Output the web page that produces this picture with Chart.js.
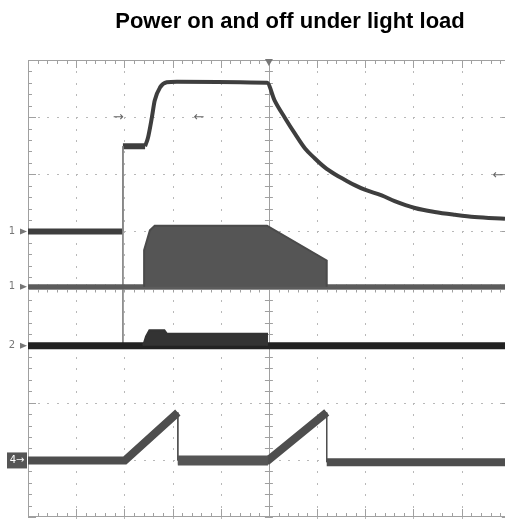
<!DOCTYPE html>
<html>
<head>
<meta charset="utf-8">
<title>Power on and off under light load</title>
<script src="https://cdn.jsdelivr.net/npm/chart.js@4.4.1/dist/chart.umd.min.js"></script>
<style>
  html, body { margin: 0; padding: 0; background: #fff; }
  canvas { display: block; }
</style>
</head>
<body>
<canvas id="scope" width="505" height="519"></canvas>
<script>
// time in screen divisions (0 .. 9.9 visible), levels in divisions from the centre line
const ch1StepTime  = [0, 1.97, 1.97, 2.43];
const ch1StepLevel = [1.00, 1.00, 2.49, 2.49];
const ch1Time  = [2.43, 2.49, 2.57, 2.63, 2.74, 2.88, 3.09, 4.96, 5.12, 5.33, 5.54, 5.75, 5.95, 6.16, 6.37, 6.58, 6.78, 6.99, 7.34, 7.61, 8.03, 8.44, 8.86, 9.27, 9.90];
const ch1Level = [2.49, 2.64, 2.99, 3.29, 3.52, 3.61, 3.62, 3.60, 3.29, 2.99, 2.71, 2.45, 2.28, 2.12, 2.00, 1.90, 1.81, 1.73, 1.63, 1.53, 1.41, 1.34, 1.29, 1.25, 1.22];

const ch2Time      = [0, 9.9];
const ch2Level     = [0.03, 0.03];
const ch2BurstTime = [2.41, 2.41, 2.53, 2.63, 4.96, 6.20, 6.20];
const ch2BurstTop  = [0.03, 0.67, 1.02, 1.10, 1.10, 0.49, 0.03];

const ch3Time      = [0, 9.9];
const ch3Level     = [-1.0, -1.0];
const ch3BurstTime = [2.39, 2.45, 2.52, 2.83, 2.88, 4.96, 4.96];
const ch3BurstTop  = [-1.0, -0.84, -0.73, -0.73, -0.79, -0.79, -1.0];

const ch4Time  = [0, 2.01, 3.11, 3.11, 4.98, 6.20, 6.20, 9.90];
const ch4Level = [-3.01, -3.01, -2.17, -3.01, -3.01, -2.17, -3.04, -3.04];
const ch4NoiseTime  = [3.11, 4.98];
const ch4NoiseLevel = [-3.01, -3.01];

const edgeTime  = [1.97, 1.97];
const edgeLevel = [2.49, -1.0];

// channel markers on the left edge
const markerLabels = ['1', '1', '2', '4'];
const markerLevels = [1.0, 0.03, -1.0, -3.01];

const pts = (xs, ys) => xs.map((x, i) => ({ x: x, y: ys[i] }));

// thin lines on vertical jumps, thick elsewhere
const thinOnJumps = (w) => ({
  borderWidth: ctx => ctx.p0.parsed.x === ctx.p1.parsed.x ? 1 : w
});

const graticule = {
  id: 'graticule',
  beforeDatasetsDraw(chart) {
    const { ctx, chartArea: a, scales: { x, y } } = chart;
    const xl = a.left, xr = x.getPixelForValue(10), yt = a.top, yb = a.bottom;
    const xc = x.getPixelForValue(5), yc = y.getPixelForValue(0);
    ctx.save();

    // dotted division lines
    ctx.fillStyle = '#b8b8b8';
    for (let d = 1; d < 10; d++) {
      if (d === 5) continue;
      const px = Math.round(x.getPixelForValue(d));
      for (let v = -4; v <= 4.001; v += 0.2) ctx.fillRect(px, Math.round(y.getPixelForValue(v)), 1, 2);
    }
    for (let d = -3; d <= 3; d++) {
      if (d === 0) continue;
      const py = Math.round(y.getPixelForValue(d));
      for (let u = 0; u <= 10.001; u += 0.2) ctx.fillRect(Math.round(x.getPixelForValue(u)), py, 2, 1);
    }

    ctx.strokeStyle = '#a0a0a0';
    ctx.lineWidth = 1;
    ctx.beginPath();
    ctx.rect(xl + 0.5, yt + 0.5, xr - xl, yb - yt - 1);
    // centre cross
    ctx.moveTo(Math.round(xc) + 0.5, yt);
    ctx.lineTo(Math.round(xc) + 0.5, yb);
    ctx.moveTo(xl, Math.round(yc) + 0.5);
    ctx.lineTo(xr, Math.round(yc) + 0.5);

    // ruler ticks, every fifth of a division
    for (let i = 0; i <= 50; i++) {
      const px = Math.round(x.getPixelForValue(i / 5)) + 0.5;
      const len = i % 5 === 0 ? 8 : 4;
      ctx.moveTo(px, yt); ctx.lineTo(px, yt + len);
      ctx.moveTo(px, yb); ctx.lineTo(px, yb - len);
      ctx.moveTo(px, yc - 4); ctx.lineTo(px, yc + 4);
    }
    for (let i = -20; i <= 20; i++) {
      const py = Math.round(y.getPixelForValue(i / 5)) + 0.5;
      const len = i % 5 === 0 ? 8 : 4;
      ctx.moveTo(xl, py); ctx.lineTo(xl + len, py);
      ctx.moveTo(xr, py); ctx.lineTo(xr - len, py);
      ctx.moveTo(xc - 4, py); ctx.lineTo(xc + 4, py);
    }
    ctx.stroke();
    ctx.restore();
  },
  afterDatasetsDraw(chart) {
    const { ctx, chartArea: a, scales: { x, y } } = chart;
    ctx.save();

    // title
    ctx.fillStyle = '#000';
    ctx.font = 'bold 22px "Liberation Sans", Arial, sans-serif';
    ctx.textAlign = 'center';
    ctx.textBaseline = 'alphabetic';
    ctx.fillText('Power on and off under light load', 290, 28);

    // trigger position marker
    const xc = x.getPixelForValue(5);
    ctx.fillStyle = '#777';
    ctx.beginPath();
    ctx.moveTo(xc - 4, a.top - 1); ctx.lineTo(xc + 4, a.top - 1); ctx.lineTo(xc, a.top + 6);
    ctx.closePath(); ctx.fill();

    // channel markers
    ctx.font = '10px "DejaVu Sans", sans-serif';
    ctx.textAlign = 'center';
    ctx.textBaseline = 'middle';
    markerLabels.forEach((lab, i) => {
      const py = y.getPixelForValue(markerLevels[i]);
      if (i === 3) {
        ctx.fillStyle = '#555';
        ctx.fillRect(7, py - 8, 20, 16);
        ctx.fillStyle = '#fff';
        ctx.fillText(lab + '\u2192', 17, py);
      } else {
        ctx.fillStyle = '#777';
        ctx.fillText(lab, 12, py);
        ctx.beginPath();
        ctx.moveTo(20, py - 3); ctx.lineTo(27, py); ctx.lineTo(20, py + 3);
        ctx.closePath(); ctx.fill();
      }
    });

    // cursor arrows
    ctx.fillStyle = '#666';
    ctx.font = '13px "DejaVu Sans", sans-serif';
    const yArrow = y.getPixelForValue(3.0);
    ctx.fillText('\u2192', x.getPixelForValue(1.87), yArrow);
    ctx.fillText('\u2190', x.getPixelForValue(3.55), yArrow);
    ctx.fillText('\u2190', 498, y.getPixelForValue(1.98));
    ctx.restore();
  }
};

new Chart(document.getElementById('scope'), {
  type: 'line',
  data: {
    datasets: [
      { data: pts(ch2BurstTime, ch2BurstTop), borderColor: '#4a4a4a', borderWidth: 2,
        backgroundColor: '#555', fill: { value: 0.03 } },
      { data: pts(ch2Time, ch2Level), borderColor: '#5c5c5c', borderWidth: 5 },
      { data: pts(ch3BurstTime, ch3BurstTop), borderColor: '#333', borderWidth: 2,
        backgroundColor: '#333', fill: { value: -1.0 } },
      { data: pts(ch3Time, ch3Level), borderColor: '#222', borderWidth: 7 },
      { data: pts(edgeTime, edgeLevel), borderColor: '#888', borderWidth: 1 },
      { data: pts(ch1StepTime, ch1StepLevel), borderColor: '#3e3e3e', borderWidth: 5, segment: thinOnJumps(6) },
      { data: pts(ch1Time, ch1Level), borderColor: '#3e3e3e', borderWidth: 4, cubicInterpolationMode: 'monotone' },
      { data: pts(ch4NoiseTime, ch4NoiseLevel), borderColor: '#555', borderWidth: 10 },
      { data: pts(ch4Time, ch4Level), borderColor: '#4e4e4e', borderWidth: 6, segment: thinOnJumps(8) }
    ]
  },
  options: {
    responsive: false,
    animation: false,
    layout: { padding: { left: 28, top: 60, right: 0, bottom: 2 } },
    elements: { point: { radius: 0 }, line: { tension: 0 } },
    scales: {
      x: { type: 'linear', min: 0, max: 9.9, display: false },
      y: { type: 'linear', min: -4, max: 4, display: false }
    },
    plugins: { legend: { display: false }, tooltip: { enabled: false } }
  },
  plugins: [graticule]
});
</script>
</body>
</html>
